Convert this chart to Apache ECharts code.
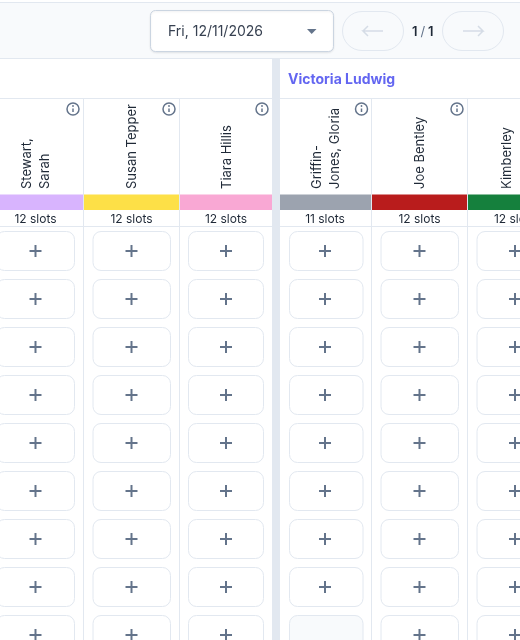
<!DOCTYPE html>
<html>
<head>
<meta charset="utf-8">
<style>
  html, body { margin: 0; padding: 0; background: #fff; }
  #main { width: 520px; height: 640px; }
</style>
<script src="https://cdn.jsdelivr.net/npm/echarts@6/dist/echarts.min.js"></script>
</head>
<body>
<div id="main"></div>
<script>
var FONT = 'Inter, "Noto Sans", sans-serif';

// 数据
// 最后一列第二行在截图边缘被裁掉,无法辨认,留空
var providers = ['Stewart,\nSarah', 'Susan Tepper', 'Tiara Hillis', 'Griffin-\nJones, Gloria', 'Joe Bentley', 'Kimberley\n '];
var providerColors = ['#d8b4fe', '#fde047', '#f9a8d4', '#9ca3af', '#b91c1c', '#15803d'];
var slotCounts = [12, 12, 12, 11, 12, 12];
var hasInfo = [1, 1, 1, 1, 1, 0];
var slotRows = [0, 1, 2, 3, 4, 5, 6, 7, 8];
// 1 = 可预约, 0 = 不可用
var slotOpen = [
	[1, 1, 1, 1, 1, 1, 1, 1, 1],
	[1, 1, 1, 1, 1, 1, 1, 1, 1],
	[1, 1, 1, 1, 1, 1, 1, 1, 1],
	[1, 1, 1, 1, 1, 1, 1, 1, 0],
	[1, 1, 1, 1, 1, 1, 1, 1, 1],
	[1, 1, 1, 1, 1, 1, 1, 1, 1]
];
var groupName = 'Victoria Ludwig';
var dateLabel = 'Fri, 12/11/2026';

// 版面
var colLeft = [-13, 84, 180, 280, 372, 468];
var colRight = [83, 179, 272, 371, 467, 560];
var colCenter = [35.5, 131.5, 226, 325, 419.5, 515];
var btnLeft = [-4, 92.5, 188, 289, 380.5, 476.5];
var btnRight = [75, 171, 264, 363.5, 459, 555];
var LINE = '#e2e8f0';
var ROW_TOP = 231, ROW_H = 48, BTN_H = 40;

var cells = [];
slotOpen.forEach(function (col, c) {
	slotRows.forEach(function (r) {
		cells.push([c, r, col[r]]);
	});
});

function renderSlot(params, api) {
	var c = api.value(0), r = api.value(1), open = api.value(2);
	var p0 = api.coord([btnLeft[c], ROW_TOP + r * ROW_H]);
	var p1 = api.coord([btnRight[c], ROW_TOP + r * ROW_H + BTN_H]);
	var children = [{
		type: 'rect',
		shape: { x: p0[0] + 0.5, y: p0[1] + 0.5, width: p1[0] - p0[0] - 1, height: p1[1] - p0[1] - 1, r: 8 },
		style: { fill: open ? '#fff' : '#f8fafc', stroke: LINE, lineWidth: 1 }
	}];
	if (open) {
		var cx = colCenter[c], cy = (p0[1] + p1[1]) / 2;
		children.push({
			type: 'line', shape: { x1: cx - 6, y1: cy, x2: cx + 6, y2: cy },
			style: { stroke: '#64748b', lineWidth: 2 }
		}, {
			type: 'line', shape: { x1: cx, y1: cy - 6, x2: cx, y2: cy + 6 },
			style: { stroke: '#64748b', lineWidth: 2 }
		});
	}
	return { type: 'group', children: children };
}

function renderHeader(params, api) {
	var c = api.value(0);
	var children = [{
		type: 'rect',
		shape: { x: colLeft[c], y: 194.5, width: colRight[c] - colLeft[c], height: 15.5 },
		style: { fill: providerColors[c] }
	}, {
		type: 'text', x: colCenter[c], y: 219,
		style: { text: slotCounts[c] + ' slots', fill: '#1f2937', font: '12px ' + FONT, textAlign: 'center', textVerticalAlign: 'middle' }
	}, {
		type: 'text', x: colCenter[c] + 1, y: 189, rotation: Math.PI / 2,
		style: { text: providers[c], fill: '#1f2937', font: '13px ' + FONT, lineHeight: 18, textAlign: 'left', textVerticalAlign: 'middle' }
	}];
	if (hasInfo[c]) {
		var ix = btnRight[c] - 2, iy = 109;
		children.push({
			type: 'circle', shape: { cx: ix, cy: iy, r: 6 },
			style: { fill: '#fff', stroke: '#64748b', lineWidth: 1.5 }
		}, {
			type: 'line', shape: { x1: ix, y1: iy - 0.5, x2: ix, y2: iy + 3 },
			style: { stroke: '#64748b', lineWidth: 1.5 }
		}, {
			type: 'circle', shape: { cx: ix, cy: iy - 3, r: 0.9 },
			style: { fill: '#64748b' }
		});
	}
	return { type: 'group', children: children };
}

function hline(y, x1, x2) {
	return { type: 'line', shape: { x1: x1, y1: y, x2: x2, y2: y }, style: { stroke: LINE, lineWidth: 1 } };
}
function vline(x, y1, y2) {
	return { type: 'line', shape: { x1: x, y1: y1, x2: x, y2: y2 }, style: { stroke: LINE, lineWidth: 1 } };
}
function arrowLeft(x1, x2) {
	var y = 31;
	return { type: 'polyline', shape: { points: [[x1 + 5, y - 5], [x1, y], [x1 + 5, y + 5], [x1, y], [x2, y]] }, style: { fill: 'none', stroke: '#d5dce6', lineWidth: 1.5 } };
}
function arrowRight(x1, x2) {
	var y = 31;
	return { type: 'polyline', shape: { points: [[x1, y], [x2, y], [x2 - 5, y - 5], [x2, y], [x2 - 5, y + 5]] }, style: { fill: 'none', stroke: '#d5dce6', lineWidth: 1.5 } };
}

var chrome = [
	{ type: 'rect', shape: { x: 0, y: 2.5, width: 520, height: 56 }, style: { fill: '#f8fafc' } },
	hline(2.5, 0, 520), hline(58.5, 0, 520), hline(98.5, 0, 520), hline(226.5, 0, 520),
	vline(83.5, 98, 640), vline(179.5, 98, 640), vline(371.5, 98, 640), vline(467.5, 98, 640),
	{ type: 'rect', shape: { x: 272, y: 58, width: 8, height: 582 }, style: { fill: '#e2e8f0' } },
	{
		type: 'rect', shape: { x: 150.5, y: 10.5, width: 183, height: 41, r: 5 },
		style: { fill: '#fff', stroke: '#cbd5e1', lineWidth: 1, shadowBlur: 2, shadowColor: 'rgba(15,23,42,0.08)', shadowOffsetY: 1 }
	},
	{ type: 'text', x: 168, y: 32, style: { text: dateLabel, fill: '#374151', font: '14px ' + FONT, textVerticalAlign: 'middle' } },
	{ type: 'polygon', shape: { points: [[307, 29], [316.5, 29], [311.7, 34]] }, style: { fill: '#64748b' } },
	{ type: 'rect', shape: { x: 342.5, y: 11.5, width: 61, height: 39, r: 19.5 }, style: { fill: 'none', stroke: LINE, lineWidth: 1 } },
	{ type: 'rect', shape: { x: 442.5, y: 11.5, width: 61, height: 39, r: 19.5 }, style: { fill: 'none', stroke: LINE, lineWidth: 1 } },
	arrowLeft(363, 383), arrowRight(463, 483),
	{ type: 'text', x: 412, y: 32, style: { text: '1', fill: '#1f2937', font: '600 13px ' + FONT, textVerticalAlign: 'middle' } },
	{ type: 'text', x: 420.5, y: 32, style: { text: '/', fill: '#64748b', font: '13px ' + FONT, textVerticalAlign: 'middle' } },
	{ type: 'text', x: 428, y: 32, style: { text: '1', fill: '#1f2937', font: '600 13px ' + FONT, textVerticalAlign: 'middle' } },
	{ type: 'text', x: 288, y: 80, style: { text: groupName, fill: '#6366f1', font: 'bold 14px ' + FONT, textVerticalAlign: 'middle' } }
];

var chart = echarts.init(document.getElementById('main'), null, { renderer: 'canvas' });
chart.setOption({
	animation: false,
	backgroundColor: '#fff',
	grid: { left: 0, right: 0, top: 0, bottom: 0 },
	xAxis: { type: 'value', min: 0, max: 520, show: false },
	yAxis: { type: 'value', min: 0, max: 640, inverse: true, show: false },
	graphic: { elements: [{ type: 'group', silent: true, z: 0, children: chrome }] },
	series: [{
		type: 'custom', renderItem: renderHeader, clip: true, z: 5,
		encode: { x: 0 }, data: providers.map(function (n, i) { return [i]; })
	}, {
		type: 'custom', renderItem: renderSlot, clip: true, z: 5,
		encode: { x: 0, y: 1 }, data: cells
	}]
});
</script>
</body>
</html>
